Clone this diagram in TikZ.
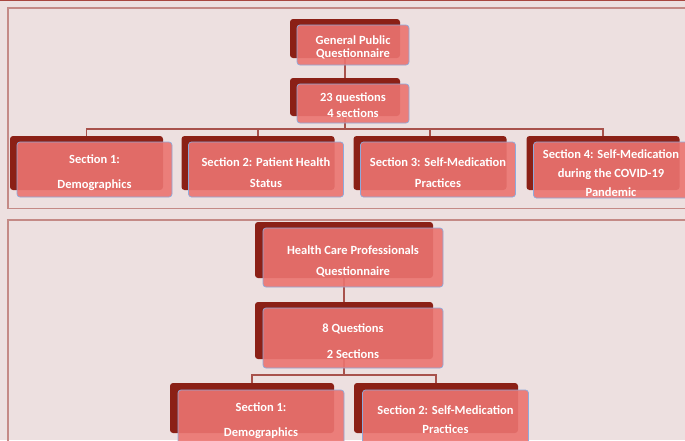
\documentclass[tikz,border=0pt]{standalone}
\usepackage{fontspec}
\setmainfont{Carlito}
\usetikzlibrary{backgrounds}
\definecolor{bgc}{HTML}{EDE0E0}
\definecolor{shadowc}{HTML}{8B2016}
\definecolor{frontc}{HTML}{EB7470}
\definecolor{edgec}{HTML}{8EA9DB}
\definecolor{framec}{HTML}{C48A86}
\definecolor{topc}{HTML}{A8463F}
\definecolor{linec}{HTML}{A8524C}
\begin{document}
\begin{tikzpicture}[x=1pt,y=-1pt,
  back/.style={fill=shadowc, rounded corners=3pt, inner sep=0pt},
  front/.style={fill=frontc, fill opacity=0.9, draw=edgec, line width=0.7pt,
    rounded corners=3pt, inner sep=0pt},
  txt/.style={text=white, align=center, inner sep=0pt,
    font=\fontsize{12.5}{12.5}\selectfont\bfseries},
  conn/.style={draw=linec, line width=1.2pt},
  frame/.style={draw=framec, line width=1.3pt}]
\useasboundingbox (0,0) rectangle (685,440);
% ---- top panel ----
\node[back, minimum width=110pt, minimum height=39pt] (gp) at (345,38.5) {};
\node[front, minimum width=112pt, minimum height=40pt] (gpf) at (353,45) {};
\node[txt] (gpt) at ([yshift=-2.5pt]gpf.center) {General Public\\Questionnaire};
\node[back, minimum width=110pt, minimum height=38pt] (q23) at (345,97) {};
\node[front, minimum width=112pt, minimum height=39pt] (q23f) at (353,103.5) {};
\node[txt] (q23t) at ([yshift=-1.5pt]q23f.center) {23 questions\\[3.5pt]4 sections};
\node[back, minimum width=153pt, minimum height=54pt] (s1) at (86.5,163) {};
\node[front, minimum width=155pt, minimum height=55pt] (s1f) at (94.5,169.5) {};
\node[txt] (s1t) at ([yshift=-3.5pt]s1f.center) {Section 1:\\[12.5pt]Demographics};
\node[back, minimum width=153pt, minimum height=54pt] (s2) at (258,163) {};
\node[front, minimum width=155pt, minimum height=55pt] (s2f) at (266,169.5) {};
\node[txt] (s2t) at ([yshift=-3.5pt]s2f.center) {Section 2: Patient Health\\[8.5pt]Status};
\node[back, minimum width=153pt, minimum height=54pt] (s3) at (430,163) {};
\node[front, minimum width=155pt, minimum height=55pt] (s3f) at (438,169.5) {};
\node[txt] (s3t) at ([yshift=-3.5pt]s3f.center) {Section 3: Self-Medication\\[8.5pt]Practices};
\node[back, minimum width=153pt, minimum height=54pt] (s4) at (603,163) {};
\node[front, minimum width=155pt, minimum height=56pt] (s4f) at (611,170) {};
\node[txt] (s4t) at ([yshift=-3pt]s4f.center) {Section 4: Self-Medication\\[7pt]during the COVID-19\\[6.5pt]Pandemic};
% ---- bottom panel ----
\node[back, minimum width=178pt, minimum height=56pt] (hcp) at (344,250) {};
\node[front, minimum width=180pt, minimum height=59pt] (hcpf) at (353,257.5) {};
\node[txt] (hcpt) at ([yshift=-4pt]hcpf.center) {Health Care Professionals\\[8.5pt]Questionnaire};
\node[back, minimum width=178pt, minimum height=57pt] (q8) at (344,330.5) {};
\node[front, minimum width=180pt, minimum height=60pt] (q8f) at (353,338) {};
\node[txt] (q8t) at ([yshift=-3pt]q8f.center) {8 Questions\\[13.5pt]2 Sections};
\node[back, minimum width=164pt, minimum height=50pt] (b1) at (252,408) {};
\node[front, minimum width=166pt, minimum height=54pt] (b1f) at (261,417) {};
\node[txt] (b1t) at ([yshift=-3.5pt]b1f.center) {Section 1:\\[12.5pt]Demographics};
\node[back, minimum width=164pt, minimum height=50pt] (b2) at (436,408) {};
\node[front, minimum width=166pt, minimum height=54pt] (b2f) at (445.5,417) {};
\node[txt] (b2t) at ([yshift=-3pt]b2f.center) {Section 2: Self-Medication\\[6.5pt]Practices};
\coordinate (bar1) at (345,129);
\coordinate (bar2) at (344,375);
\begin{pgfonlayer}{background}
  \fill[bgc] (0,0) rectangle (685,440);
  \draw[draw=topc, line width=1.5pt] (0,0.6) -- (685,0.6);
  \draw[frame] (8,8) rectangle (700,208.5);
  \draw[frame] (8,220) rectangle (700,470);
  \draw[conn] (gp.south) -- (q23.north);
  \draw[conn] (q23.south) -- (bar1);
  \draw[conn] (s1.north) |- (bar1) -| (s4.north);
  \draw[conn] (s2.north) -- (s2.north |- bar1);
  \draw[conn] (s3.north) -- (s3.north |- bar1);
  \draw[conn] (hcp.south) -- (q8.north);
  \draw[conn] (q8.south) -- (bar2);
  \draw[conn] (b1.north) |- (bar2) -| (b2.north);
\end{pgfonlayer}
\end{tikzpicture}
\end{document}
